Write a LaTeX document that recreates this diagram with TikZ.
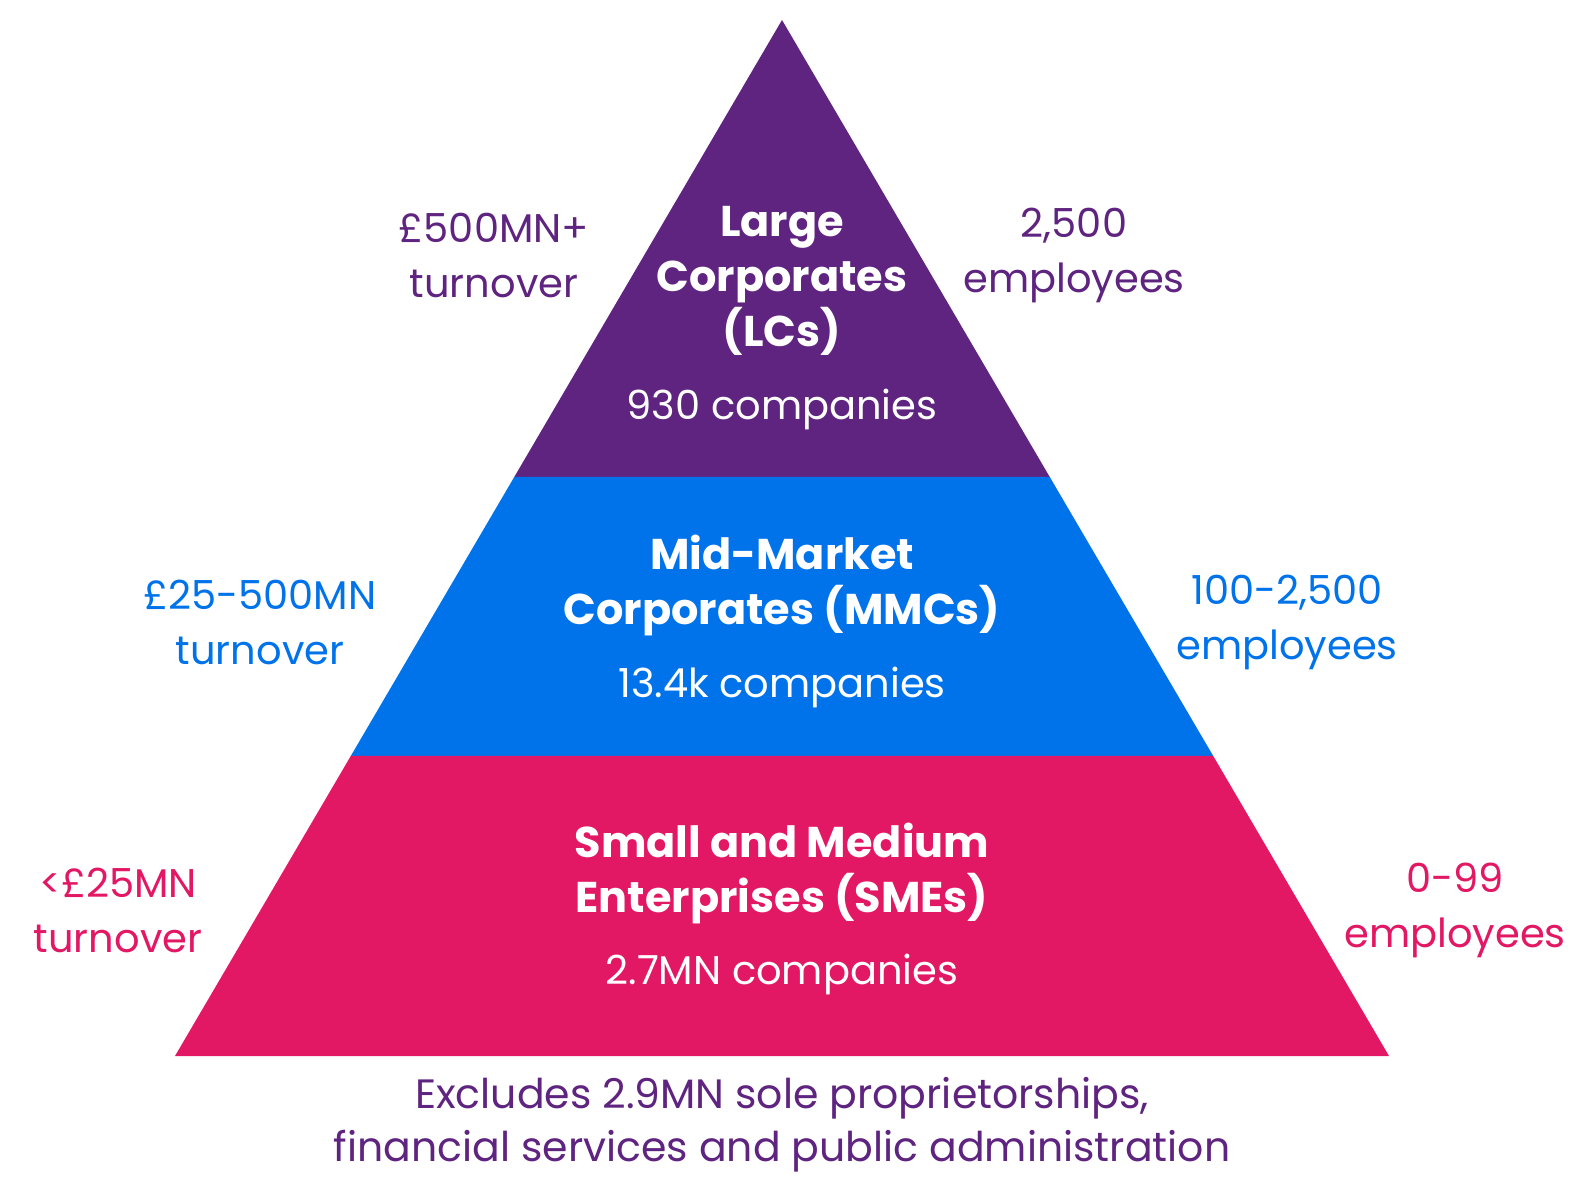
\documentclass[tikz,border=0pt]{standalone}
\usepackage{fontspec}
\setmainfont{Poppins}
\usepackage{xcolor}
\usetikzlibrary{calc, positioning}
\definecolor{TierPurple}{HTML}{5F2480}
\definecolor{TierBlue}{HTML}{0073EA}
\definecolor{TierPink}{HTML}{E31864}

\tikzset{
  tiername/.style={align=center, text=white, font=\fontsize{43}{55}\selectfont\bfseries},
  tiercount/.style={align=center, text=white, font=\fontsize{40}{54}\selectfont},
  sidelabel/.style={align=center, font=\fontsize{40}{55}\selectfont},
}

\begin{document}
\begin{tikzpicture}[x=1pt, y=-1pt]
  \useasboundingbox (0,0) rectangle (1573,1180);
  % corners of the pyramid and the two cut lines
  \coordinate (apex) at (782,20);
  \coordinate (bl) at (175,1056);
  \coordinate (br) at (1389,1056);
  \coordinate (l1) at ($(apex)!0.4411!(bl)$);
  \coordinate (r1) at ($(apex)!0.4411!(br)$);
  \coordinate (l2) at ($(apex)!0.7104!(bl)$);
  \coordinate (r2) at ($(apex)!0.7104!(br)$);

  \fill[TierPurple] (apex) -- (r1) -- (l1) -- cycle;
  \fill[TierBlue]   (l1) -- (r1) -- (r2) -- (l2) -- cycle;
  \fill[TierPink]   (l2) -- (r2) -- (br) -- (bl) -- cycle;

  % top tier
  \node[tiername] (lcname) at (782,281) {Large\\Corporates\\(LCs)};
  \node[tiercount] (lccount) at (782,409) {930 companies};
  \node[sidelabel, text=TierPurple] (lcturn) at (494,255) {£500MN+\\turnover};
  \node[sidelabel, text=TierPurple] (lcstaff) at (1074,255) {2,500\\employees};

  % middle tier
  \node[tiername] (mmcname) at (782,585) {Mid-Market\\Corporates (MMCs)};
  \node[tiercount] (mmccount) at (782,687) {13.4k companies};
  \node[sidelabel, text=TierBlue] (mmcturn) at (260,622) {£25-500MN\\turnover};
  \node[sidelabel, text=TierBlue] (mmcstaff) at (1287,622) {100-2,500\\employees};

  % bottom tier
  \node[tiername] (smename) at (782,873) {Small and Medium\\Enterprises (SMEs)};
  \node[tiercount] (smecount) at (782,974) {2.7MN companies};
  \node[sidelabel, text=TierPink] (smeturn) at (118,910) {<£25MN\\turnover};
  \node[sidelabel, text=TierPink] (smestaff) at (1455,910) {0-99\\employees};

  \node[sidelabel, text=TierPurple, font=\fontsize{41}{53}\selectfont] (note) at (782,1125)
    {Excludes 2.9MN sole proprietorships,\\financial services and public administration};
\end{tikzpicture}
\end{document}
